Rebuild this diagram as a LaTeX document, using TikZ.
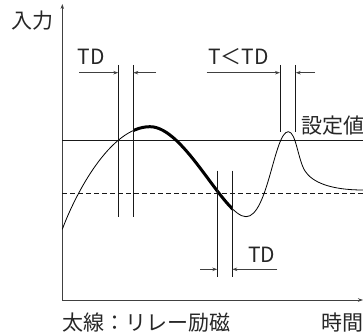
\documentclass[tikz,border=0pt]{standalone}
\usepackage{fontspec}
\setmainfont{Noto Sans CJK JP}
\usetikzlibrary{arrows.meta}
\begin{document}
\begin{tikzpicture}[x=1pt,y=-1pt,
  thinline/.style={line width=0.8pt,draw=black!90},
  axisline/.style={line width=0.8pt,draw=black!75,-{Stealth[length=5pt,width=3.5pt]}},
  dimarrow/.style={line width=0.8pt,draw=black!75,-{Stealth[length=5pt,width=3.5pt]}},
  lbl/.style={font=\fontsize{21}{21}\selectfont,inner sep=0pt,anchor=base,text=black!85},
  sigcurve/.style={insert path={(62.3,229.3) .. controls (75,195) and (110,126.7) .. (150,126.7)
     .. controls (185,126.7) and (224,216.7) .. (246,216.7)
     .. controls (268,216.7) and (274.3,131.7) .. (288.3,131.7)
     .. controls (296,131.7) and (298,160) .. (305,171)
     .. controls (312,182) and (330,190) .. (363,190)}}]
\useasboundingbox (0,0) rectangle (363,336);
% axes
\coordinate (O) at (62.3,300);
\coordinate (ytop) at (62.3,4);
\coordinate (xend) at (363,300);
\draw[axisline] (O) -- (ytop);
\draw[axisline] (O) -- (xend);
% set value line and dashed reset line
\coordinate (s1) at (62.3,140.7); \coordinate (s2) at (363,140.7);
\coordinate (d1) at (62.3,193.5); \coordinate (d2) at (363,193.5);
\draw[thinline] (s1) -- (s2);
\draw[thinline,dash pattern=on 5pt off 3pt] (d1) -- (d2);
% curve
\draw[line width=0.8pt,draw=black,sigcurve];
\begin{scope}
\clip (133.3,0) rectangle (232.3,336);
\draw[line width=3pt,draw=black,sigcurve];
\end{scope}
% TD top
\coordinate (a1t) at (118.3,65); \coordinate (a1b) at (118.3,216.7);
\coordinate (a2t) at (133.3,65); \coordinate (a2b) at (133.3,216.7);
\draw[thinline] (a1t) -- (a1b);
\draw[thinline] (a2t) -- (a2b);
\coordinate (a1s) at (79,72.7); \coordinate (a1e) at (118.3,72.7);
\coordinate (a2s) at (156,72.7); \coordinate (a2e) at (133.3,72.7);
\draw[dimarrow] (a1s) -- (a1e);
\draw[dimarrow] (a2s) -- (a2e);
\node[lbl] (td1) at (91.5,65) {TD};
% T<TD
\coordinate (b1t) at (280,65); \coordinate (b1b) at (280,131.7);
\coordinate (b2t) at (295.7,65); \coordinate (b2b) at (295.7,131.7);
\draw[thinline] (b1t) -- (b1b);
\draw[thinline] (b2t) -- (b2b);
\coordinate (b1s) at (206.7,72.7); \coordinate (b1e) at (280,72.7);
\coordinate (b2s) at (315,72.7); \coordinate (b2e) at (295.7,72.7);
\draw[dimarrow] (b1s) -- (b1e);
\draw[dimarrow] (b2s) -- (b2e);
\node[lbl] (ttd) at (238.7,65) {T＜TD};
% TD bottom
\coordinate (c1t) at (217.3,170.7); \coordinate (c1b) at (217.3,276.7);
\coordinate (c2t) at (232.3,170.7); \coordinate (c2b) at (232.3,276.7);
\draw[thinline] (c1t) -- (c1b);
\draw[thinline] (c2t) -- (c2b);
\coordinate (c1s) at (200,269.3); \coordinate (c1e) at (217.3,269.3);
\coordinate (c2s) at (277.3,269.3); \coordinate (c2e) at (232.3,269.3);
\draw[dimarrow] (c1s) -- (c1e);
\draw[dimarrow] (c2s) -- (c2e);
\node[lbl] (td2) at (261.7,262.7) {TD};
% labels
\node[lbl] (input) at (32.5,28.5) {入力};
\node[lbl] (setv) at (332.5,133.5) {設定値};
\node[lbl] (note) at (146.5,330) {太線：リレー励磁};
\node[lbl] (time) at (342.5,330) {時間};
\end{tikzpicture}
\end{document}
